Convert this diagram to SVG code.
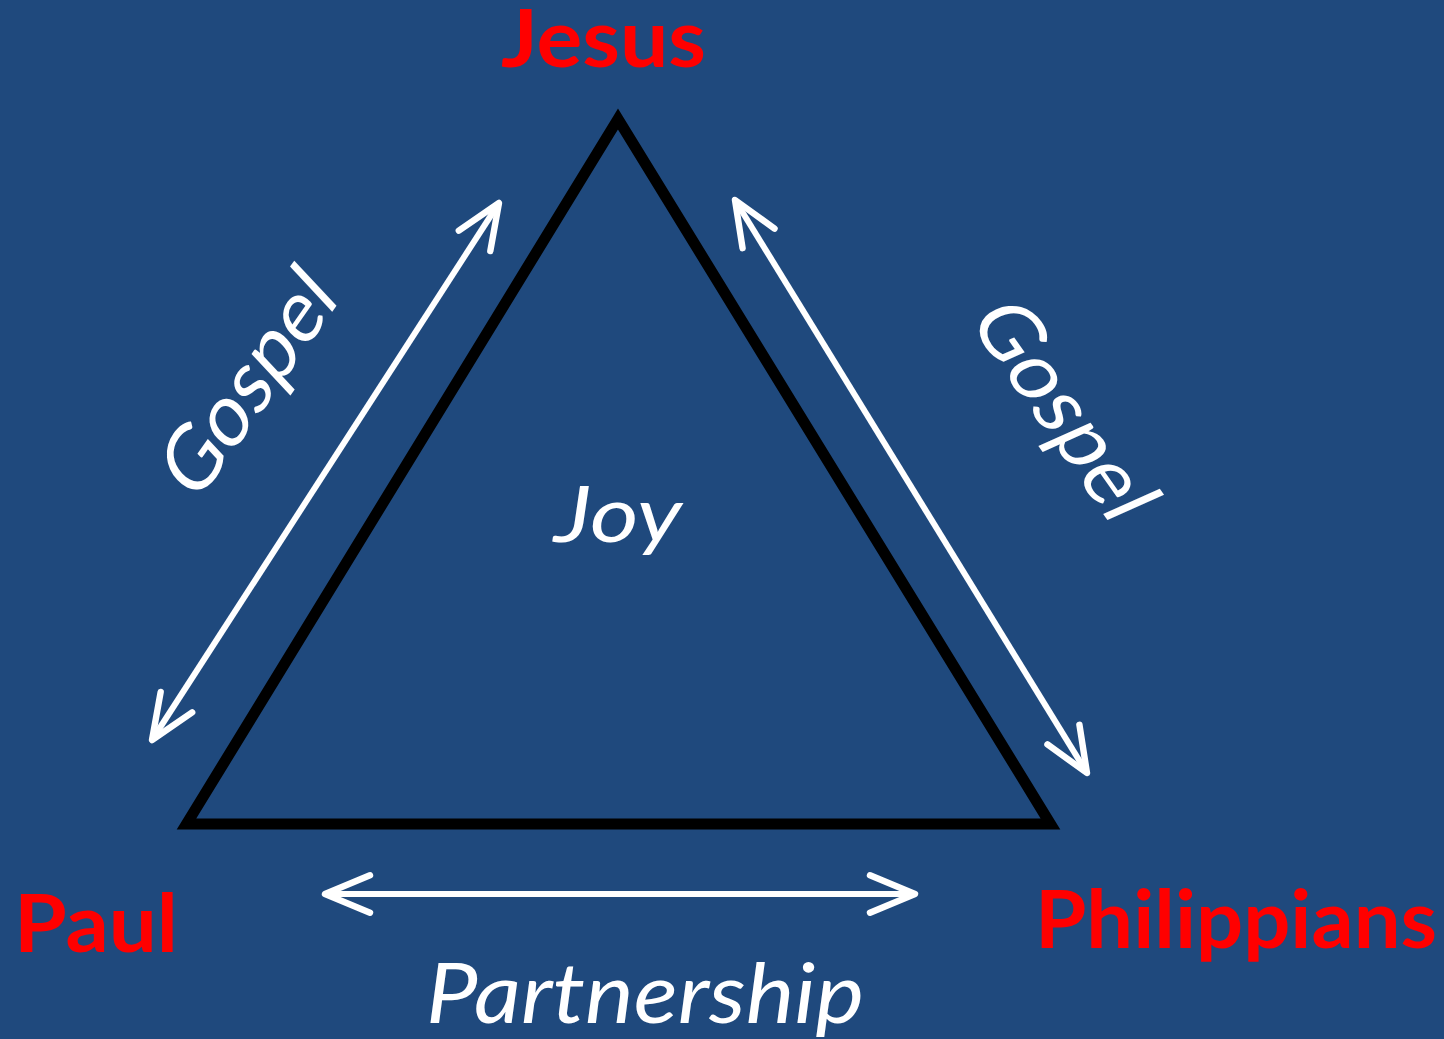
<svg xmlns="http://www.w3.org/2000/svg" width="1444" height="1039" viewBox="0 0 1444 1039">
  <defs>
    <style>
      .lbl { font-family: Lato, "Open Sans", "Liberation Sans", sans-serif; font-weight: 700; fill: #FF0000; font-size: 81px; }
      .wt { font-family: Lato, "Open Sans", "Liberation Sans", sans-serif; fill: #FFFFFF; }
      .it { font-style: italic; }
      .arr { stroke: #FFFFFF; stroke-width: 6; fill: none; marker-start: url(#head); marker-end: url(#head); }
    </style>
    <marker id="head" markerUnits="userSpaceOnUse" orient="auto-start-reverse" markerWidth="60" markerHeight="60" refX="0" refY="0" viewBox="-50 -25 56 50" overflow="visible">
      <path d="M -42 -17.5 L 0 0 L -42 17.5" fill="none" stroke="#FFFFFF" stroke-width="6" stroke-linecap="round" stroke-linejoin="round"/>
    </marker>
  </defs>
  <rect x="0" y="0" width="1444" height="1039" fill="#1F497D"/>

  <g id="triangle">
    <polygon points="618,119 186.5,824 1050.5,824" fill="none" stroke="#000000" stroke-width="11" stroke-linejoin="miter"/>
  </g>

  <g id="connectors">
    <line class="arr" x1="152" y1="740" x2="499" y2="203"/>
    <line class="arr" x1="735" y1="200" x2="1087" y2="773"/>
    <line class="arr" x1="325" y1="894" x2="915" y2="894"/>
  </g>

  <g id="jesus"><text class="lbl" x="501" y="67" font-size="82" textLength="205" lengthAdjust="spacingAndGlyphs">Jesus</text></g>
  <g id="paul"><text class="lbl" x="14" y="952" font-size="80" textLength="164" lengthAdjust="spacingAndGlyphs">Paul</text></g>
  <g id="philippians"><text class="lbl" x="1035" y="948" font-size="79" textLength="402" lengthAdjust="spacingAndGlyphs">Philippians</text></g>

  <g id="joy"><text class="wt it" x="554" y="542" font-size="77" textLength="128" lengthAdjust="spacingAndGlyphs">Joy</text></g>
  <g id="partnership"><text class="wt it" x="426" y="1023" font-size="84" textLength="438" lengthAdjust="spacingAndGlyphs">Partnership</text></g>

  <g id="gospel-left" transform="matrix(0.576,-0.817,0.716,0.768,339.8,301)">
    <text class="wt" x="0" y="0" font-size="80" text-anchor="end" textLength="250" lengthAdjust="spacingAndGlyphs">Gospel</text>
  </g>
  <g id="gospel-right" transform="matrix(0.574,0.819,-0.960,0.427,1111,525)">
    <text class="wt" x="0" y="0" font-size="80" text-anchor="end" textLength="252" lengthAdjust="spacingAndGlyphs">Gospel</text>
  </g>
</svg>
